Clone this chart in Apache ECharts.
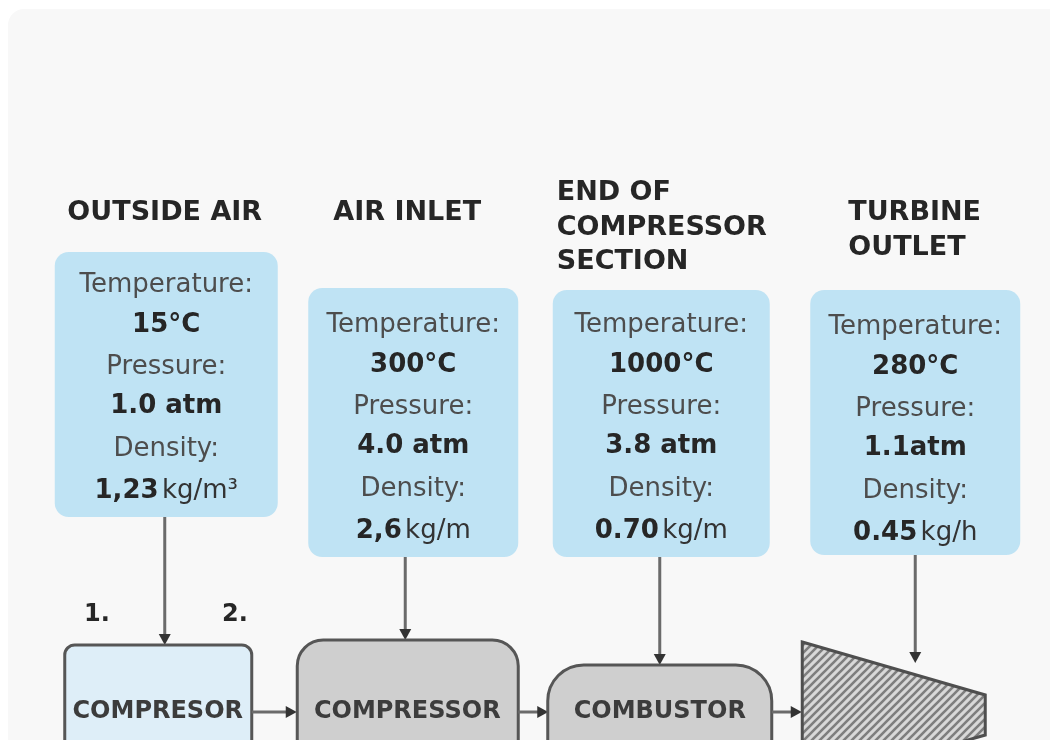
<!DOCTYPE html>
<html>
<head>
<meta charset="utf-8">
<script src="https://cdn.jsdelivr.net/npm/echarts@6/dist/echarts.min.js"></script>
<style>html,body{margin:0;padding:0;background:#ffffff;}#chart{width:1050px;height:740px;}</style>
</head>
<body>
<div id="chart"></div>
<script>
// ---------- data ----------
const stageTitles = ['OUTSIDE AIR', 'AIR INLET', 'END OF\nCOMPRESSOR\nSECTION', 'TURBINE\nOUTLET'];
const temperatureValues = ['15°C', '300°C', '1000°C', '280°C'];
const pressureValues = ['1.0 atm', '4.0 atm', '3.8 atm', '1.1atm'];
const densityNumbers = ['1,23', '2,6', '0.70', '0.45'];
const densityUnits = ['kg/m³', 'kg/m', 'kg/m', 'kg/h'];
const propertyLabels = ['Temperature:', 'Pressure:', 'Density:'];
const componentNames = ['COMPRESOR', 'COMPRESSOR', 'COMBUSTOR', ''];
const stepLabels = ['1.', '2.'];

// ---------- layout (positions relative to each stage's axis centre) ----------
const layout = [
  { box: { dx: -112, w: 223, top: 252, h: 265 }, textTop: 33,
    title: { align: 'center', dx: -2, y: 213 },
    arrow: { dx: -2, y2: 645 },
    comp: { type: 'rect', dx: -102, w: 187, top: 645, r: 10, fill: '#deeef8', tdx: -9 },
    hArrow: { x1: 85, x2: 130 } },
  { box: { dx: -108, w: 210, top: 288, h: 269 }, textTop: 37,
    title: { align: 'center', dx: -9, y: 213 },
    arrow: { dx: -11, y2: 640 },
    comp: { type: 'rect', dx: -119, w: 221, top: 640, r: 26, fill: '#cfcfcf', tdx: -9 },
    hArrow: { x1: 102, x2: 132 } },
  { box: { dx: -113, w: 217, top: 290, h: 267 }, textTop: 35,
    title: { align: 'left', dx: -109, y: 193 },
    arrow: { dx: -6, y2: 665 },
    comp: { type: 'rect', dx: -118, w: 224, top: 665, r: 36, fill: '#cfcfcf', tdx: -6 },
    hArrow: { x1: 106, x2: 136 } },
  { box: { dx: -105, w: 210, top: 290, h: 265 }, textTop: 37,
    title: { align: 'left', dx: -67, y: 213 },
    arrow: { dx: 0, y2: 663 },
    comp: { type: 'turbine', pts: [[-113, 642], [70, 695], [70, 735], [-113, 788]] },
    hArrow: null }
];
const lineSteps = [0, 40, 82, 121, 164, 206];
const stepLabelPos = [[97, 615], [235, 615]];
const FONT = '"DejaVu Sans", sans-serif';

// hatch pattern for turbine
const T = 8;
const pc = document.createElement('canvas');
pc.width = T; pc.height = T;
const g = pc.getContext('2d');
g.fillStyle = '#d8d8d8'; g.fillRect(0, 0, T, T);
g.strokeStyle = '#7e7e7e'; g.lineWidth = 2.6;
g.beginPath();
g.moveTo(-1, T + 1); g.lineTo(T + 1, -1);
g.moveTo(-T / 2 - 1, T / 2 + 1); g.lineTo(T / 2 + 1, -T / 2 - 1);
g.moveTo(T / 2 - 1, T * 1.5 + 1); g.lineTo(T * 1.5 + 1, T / 2 - 1);
g.stroke();
const hatch = { image: pc, repeat: 'repeat' };

function arrowHead(x, y, dir) {
  if (dir === 'down') return [[x - 6, y - 11], [x + 6, y - 11], [x, y]];
  return [[x - 11, y - 6], [x - 11, y + 6], [x, y]];
}

function renderItem(params, api) {
  const i = api.value(0);
  const L = layout[i];
  const cx = api.coord([i, 0])[0];
  const Y = v => api.coord([i, v])[1];
  const ch = [];
  const b = L.box;
  const bx = cx + b.dx, bcx = bx + b.w / 2;
  // title
  ch.push({ type: 'text', style: {
    text: stageTitles[i], x: cx + L.title.dx, y: Y(L.title.y) - 17,
    align: L.title.align, verticalAlign: 'top', lineHeight: 34.5,
    font: 'bold 27px ' + FONT, fill: '#262626' } });
  // info box
  ch.push({ type: 'rect', shape: { x: bx, y: Y(b.top), width: b.w, height: b.h, r: 14 },
    style: { fill: '#bfe3f4' } });
  const t0 = Y(b.top) + L.textTop;
  const labelStyle = { font: '26px ' + FONT, fill: '#4d4d4d', align: 'center', verticalAlign: 'middle' };
  const valueStyle = { font: 'bold 26px ' + FONT, fill: '#262626', align: 'center', verticalAlign: 'middle' };
  ch.push({ type: 'text', style: Object.assign({ text: propertyLabels[0], x: bcx, y: t0 + lineSteps[0] }, labelStyle) });
  ch.push({ type: 'text', style: Object.assign({ text: temperatureValues[i], x: bcx, y: t0 + lineSteps[1] }, valueStyle) });
  ch.push({ type: 'text', style: Object.assign({ text: propertyLabels[1], x: bcx, y: t0 + lineSteps[2] }, labelStyle) });
  ch.push({ type: 'text', style: Object.assign({ text: pressureValues[i], x: bcx, y: t0 + lineSteps[3] }, valueStyle) });
  ch.push({ type: 'text', style: Object.assign({ text: propertyLabels[2], x: bcx, y: t0 + lineSteps[4] }, labelStyle) });
  ch.push({ type: 'text', style: {
    text: '{n|' + densityNumbers[i] + '} {u|' + densityUnits[i] + '}',
    x: bcx, y: t0 + lineSteps[5], align: 'center', verticalAlign: 'middle',
    rich: { n: { font: 'bold 26px ' + FONT, fill: '#262626' },
            u: { font: '26px ' + FONT, fill: '#333333' } } } });
  // vertical arrow
  const ax = cx + L.arrow.dx;
  ch.push({ type: 'line', shape: { x1: ax, y1: Y(b.top + b.h), x2: ax, y2: Y(L.arrow.y2) - 8 },
    style: { stroke: '#6b6b6b', lineWidth: 3 } });
  ch.push({ type: 'polygon', shape: { points: arrowHead(ax, Y(L.arrow.y2), 'down') },
    style: { fill: '#333333' } });
  // component
  const c = L.comp;
  if (c.type === 'rect') {
    ch.push({ type: 'rect', shape: { x: cx + c.dx, y: Y(c.top), width: c.w, height: 200, r: c.r },
      style: { fill: c.fill, stroke: '#565656', lineWidth: 3 } });
    ch.push({ type: 'text', style: { text: componentNames[i], x: cx + c.tdx, y: Y(712),
      align: 'center', verticalAlign: 'middle', font: 'bold 24px ' + FONT, fill: '#3c3c3c' } });
  } else {
    ch.push({ type: 'polygon', shape: { points: c.pts.map(p => [cx + p[0], Y(p[1])]) },
      style: { fill: hatch, stroke: '#4f4f4f', lineWidth: 3, lineJoin: 'miter' } });
  }
  // horizontal arrow to next component
  if (L.hArrow) {
    const x1 = cx + L.hArrow.x1, x2 = cx + L.hArrow.x2;
    ch.push({ type: 'line', shape: { x1: x1, y1: Y(712), x2: x2 - 8, y2: Y(712) },
      style: { stroke: '#6b6b6b', lineWidth: 3 } });
    ch.push({ type: 'polygon', shape: { points: arrowHead(x2, Y(712), 'right') },
      style: { fill: '#333333' } });
  }
  if (i === 0) {
    stepLabels.forEach((s, k) => {
      ch.push({ type: 'text', style: { text: s, x: stepLabelPos[k][0], y: Y(stepLabelPos[k][1]),
        align: 'center', verticalAlign: 'middle', font: 'bold 24px ' + FONT, fill: '#262626' } });
    });
  }
  return { type: 'group', children: ch };
}

const chart = echarts.init(document.getElementById('chart'), null, { renderer: 'canvas' });
chart.setOption({
  backgroundColor: '#ffffff',
  animation: false,
  graphic: [{ type: 'rect', z: -10, shape: { x: 8, y: 9, width: 1070, height: 780, r: 16 },
    style: { fill: '#f8f8f8' } }],
  grid: { left: 42, right: 10, top: 0, bottom: 0 },
  xAxis: { type: 'category', data: stageTitles.map((s, k) => k), show: false },
  yAxis: { type: 'value', min: 0, max: 740, inverse: true, show: false },
  series: [{
    type: 'custom',
    renderItem: renderItem,
    data: stageTitles.map((s, k) => [k]),
    encode: { x: 0 },
    clip: false
  }]
});
</script>
</body>
</html>
